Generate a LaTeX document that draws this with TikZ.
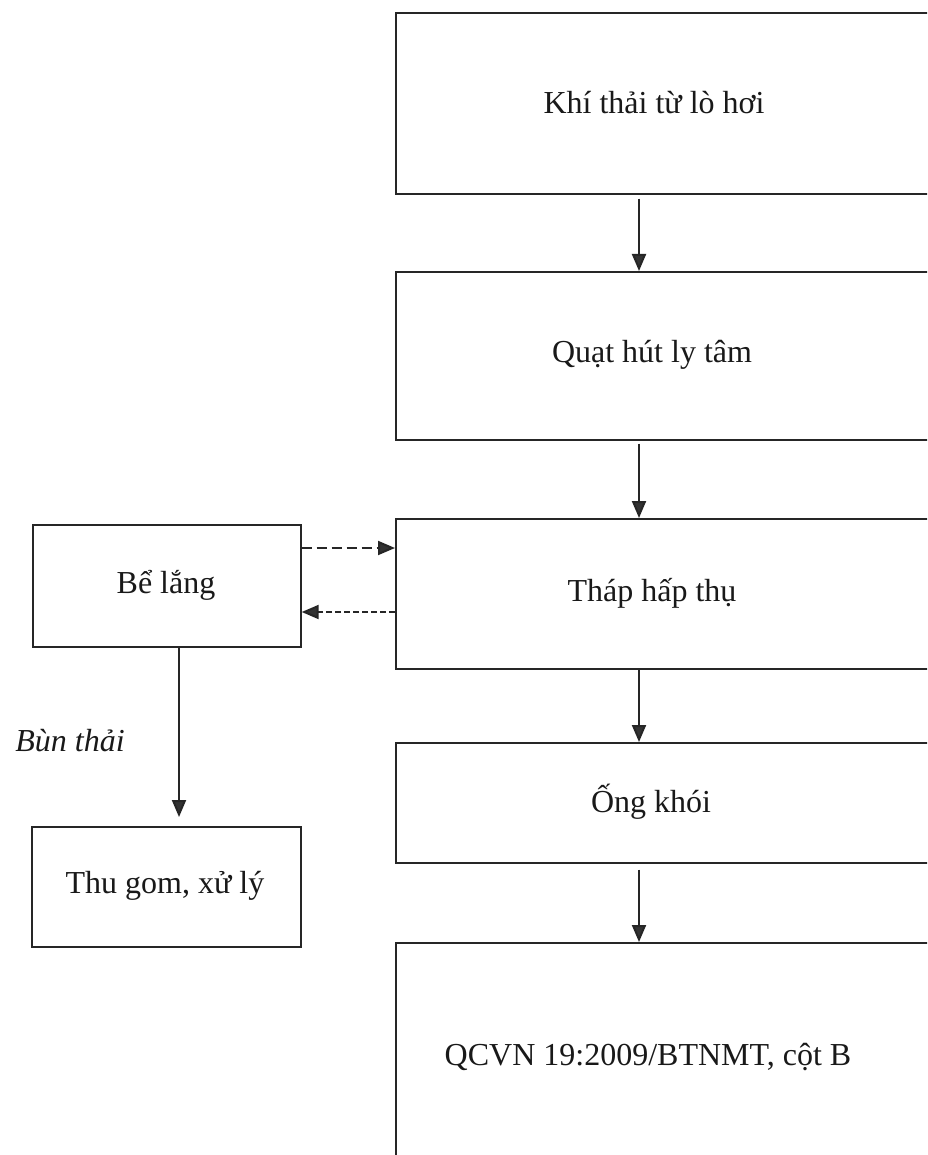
\documentclass[tikz,border=0pt]{standalone}
\usepackage{fontspec}
\setmainfont{Liberation Serif}
\usetikzlibrary{arrows.meta}
\begin{document}
\begin{tikzpicture}[x=1pt,y=-1pt,
  flowbox/.style={draw=black!85, line width=1.7pt, inner sep=0pt, anchor=north west},
  boxtext/.style={font=\fontsize{32}{38}\selectfont, text=black!90},
  arr/.style={draw=black!85, line width=2pt, -{Triangle[length=17pt,width=14pt,fill=black!80]}},
  dasharrA/.style={arr, dash pattern=on 10pt off 5pt},
  dasharrB/.style={arr, dash pattern=on 6pt off 3pt}]
\useasboundingbox (0,0) rectangle (927,1155);
\clip (0,0) rectangle (927,1155);
\fill[white] (0,0) rectangle (927,1155);
% main column (boxes extend beyond the right edge)
\node[flowbox, minimum width=550pt, minimum height=181pt] (b1) at (395,12) {};
\node[flowbox, minimum width=550pt, minimum height=168pt] (b2) at (395,271) {};
\node[flowbox, minimum width=550pt, minimum height=150pt] (b3) at (395,518) {};
\node[flowbox, minimum width=550pt, minimum height=120pt] (b4) at (395,742) {};
\node[flowbox, minimum width=550pt, minimum height=233pt] (b5) at (395,942) {};
\node[boxtext] (t1) at (654,103) {Khí thải từ lò hơi};
\node[boxtext] (t2) at (652,355) {Quạt hút ly tâm};
\node[boxtext] (t3) at (652,593) {Tháp hấp thụ};
\node[boxtext] (t4) at (651,802) {Ống khói};
\node[boxtext] (t5) at (648,1057) {QCVN 19:2009/BTNMT, cột B};
% left column
\node[flowbox, minimum width=268pt, minimum height=122pt] (bl) at (32,524) {};
\node[flowbox, minimum width=269pt, minimum height=120pt] (tg) at (31,826) {};
\node[boxtext] (tbl) at (166,585) {Bể lắng};
\node[boxtext] (ttg) at (165,886) {Thu gom, xử lý};
\node[boxtext, font=\fontsize{32}{38}\selectfont\itshape] (bt) at (70,741) {Bùn thải};
% connector x positions
\coordinate (cx) at (639,0);
\coordinate (lx) at (179,0);
\coordinate (d1) at (0,548);
\coordinate (d2) at (0,612);
\draw[arr, shorten <=4pt] (b1.south -| cx) -- (b2.north -| cx);
\draw[arr, shorten <=3pt] (b2.south -| cx) -- (b3.north -| cx);
\draw[arr] (b3.south -| cx) -- (b4.north -| cx);
\draw[arr, shorten <=6pt] (b4.south -| cx) -- (b5.north -| cx);
\draw[dasharrA] (bl.east |- d1) -- (b3.west |- d1);
\draw[dasharrB] (b3.west |- d2) -- (bl.east |- d2);
\draw[arr, shorten >=9pt] (bl.south -| lx) -- (tg.north -| lx);
\end{tikzpicture}
\end{document}
